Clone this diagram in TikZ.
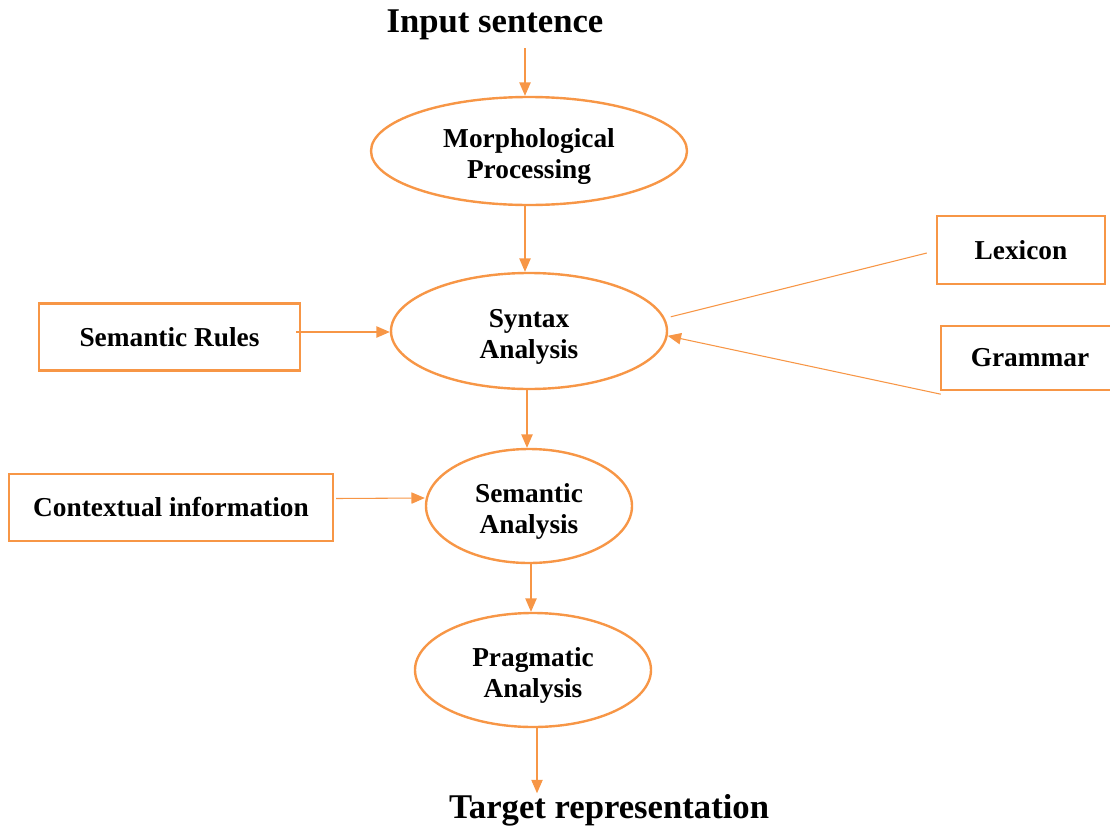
\documentclass[tikz,border=0pt]{standalone}
\usepackage{fontspec}
\setmainfont{Liberation Serif}
\usepackage{xcolor}
\usetikzlibrary{shapes.geometric}
\usetikzlibrary{arrows.meta}
\definecolor{accent}{HTML}{F79646}
\newcommand{\lift}{\rule{0pt}{22pt}}

\begin{document}
\begin{tikzpicture}[x=0.75pt,y=-0.75pt,
  stage/.style={draw=accent, line width=1.8pt, ellipse, inner sep=0pt, align=center,
    font=\bfseries\fontsize{20.5}{23.3}\selectfont},
  source/.style={draw=accent, line width=1.8pt, rectangle, inner sep=0pt, align=center,
    font=\bfseries\fontsize{20.5}{23}\selectfont},
  title/.style={inner sep=0pt, font=\bfseries\fontsize{26}{30}\selectfont},
  flow/.style={draw=accent, line width=0.8pt, -{Triangle[length=10pt,width=8.5pt]}},
  plain/.style={draw=accent, line width=0.8pt}]
\useasboundingbox (0,0) rectangle (1110,828);
\node[title] (inp) at (495,25) {Input sentence};
\node[stage, minimum width=237pt, minimum height=81pt] (morph) at (529,151) {\lift Morphological\\Processing};
\node[stage, minimum width=207pt, minimum height=87pt] (syn) at (529,331) {\lift Syntax\\Analysis};
\node[stage, minimum width=154.5pt, minimum height=85.5pt] (sem) at (529,506) {\lift Semantic\\Analysis};
\node[stage, minimum width=177pt, minimum height=85.5pt] (prag) at (533,670) {\lift Pragmatic\\Analysis};
\node[title] (tgt) at (609,810) {Target representation};
\node[source, minimum width=196pt, minimum height=50pt] (rules) at (169.5,337) {Semantic Rules};
\node[source, minimum width=243pt, minimum height=50pt] (ctx) at (171,507.5) {Contextual information};
\node[source, minimum width=126pt, minimum height=51pt] (lex) at (1021,250) {Lexicon};
\node[source, minimum width=133.5pt, minimum height=48pt] (gram) at (1030,358) {Grammar};

% main chain
\draw[flow] (morph.north |- inp.south) ++(-4,8) -- ([xshift=-3pt]morph.north);
\draw[flow] (morph.south) ++(-4,0) -- ([xshift=-3pt]syn.north);
\draw[flow] (syn.south) ++(-2,0) -- ([xshift=-1.5pt]sem.north);
\draw[flow] ([xshift=1.5pt]sem.south) -- ([xshift=-1.5pt]prag.north);
\draw[flow] (prag.south) ++(4,0) -- ++(0,65);

% side inputs
\draw[flow] (rules.east) ++(-5,-5) -- (syn.west |- 0,332);
\draw[flow] (ctx.east) ++(2,-9) -- (sem.west |- 0,498);
\draw[plain] (lex.west) ++(-9,3) -- ([xshift=5pt]syn.6);
\draw[flow] (gram.south west) ++(1,3) -- (syn.-2);
\end{tikzpicture}
\end{document}
